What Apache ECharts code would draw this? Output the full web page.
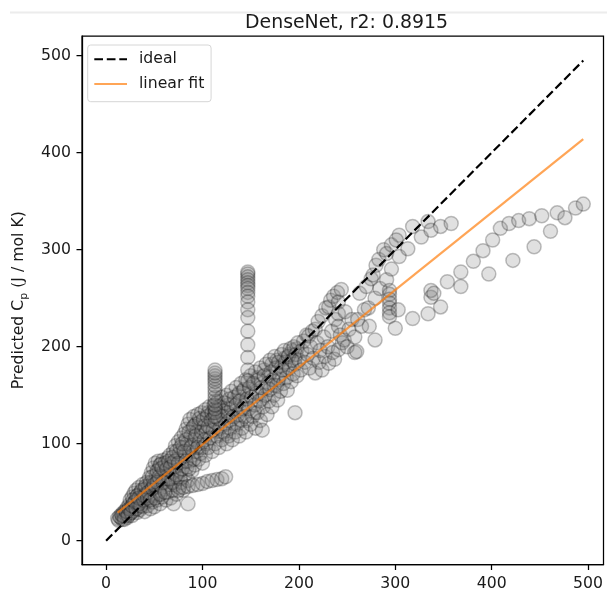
<!DOCTYPE html>
<html>
<head>
<meta charset="utf-8">
<script src="https://cdn.jsdelivr.net/npm/echarts@6/dist/echarts.min.js"></script>
<style>
html,body{margin:0;padding:0;background:#fff;}
#chart{width:607px;height:592px;}
</style>
</head>
<body>
<div id="chart"></div>
<script>
const titleText = 'DenseNet, r2: 0.8915';
const xTicks = [0, 100, 200, 300, 400, 500];
const yTicks = [0, 100, 200, 300, 400, 500];
const idealLine = [[0, 0], [495, 495]];
const fitLine = [[12, 29], [495, 414]];

const bandLow = [
[12,23],[13,21],[15,24],[16,27],[17,22],[18,29],[19,25],[20,31],[21,27],[22,34],[22,24],[23,30],[24,37],[25,28],[25,42],[26,33],[27,45],[27,26],[28,38],[29,49],[29,31],[30,35],[31,52],[31,42],[32,29],[33,47],[33,37],[34,55],[35,40],[35,32],[36,50],[37,44],[38,58],[38,35],[39,47],[40,53],[40,30],[41,40],[42,60],[42,49],[43,36],[44,56],[45,44],[45,65],[46,33],[47,52],[47,70],[48,40],[49,60],[49,75],[50,47],[50,35],[51,80],[52,55],[52,68],[53,42],[54,82],[54,62],[55,50],[55,74],[56,38],[57,79],[57,57],[58,66],[58,45],[59,83],[60,72],[60,53],[61,60],[62,78],[62,42],[63,67],[64,85],[64,50],[65,73],[66,58],[66,88],[67,44],[68,80],[68,64],[69,52],[70,92],[70,70],[71,58],[72,98],[72,76],[73,48],[74,84],[74,65],[75,102],[76,55],[76,90],[77,72],[78,106],[78,60],[79,80],[80,96],[80,52],[81,110],[82,68],[82,88],[83,115],[84,76],[84,100],[85,120],[85,62],[86,92],[87,125],[87,82],[88,108],[89,72],[89,98],[90,116],[90,88],[91,128],[92,78],[92,104],[93,120],[94,92],[94,112],[95,130],[96,84],[96,100],[97,122],[98,108],[98,90],[99,132],[100,116],[100,96],[100,80]
];
const bandExtra = [
[14,25],[17,26],[19,22],[21,30],[23,26],[24,33],[26,29],[27,36],[28,42],[30,40],[31,33],[32,46],[34,38],[34,44],[36,36],[37,52],[39,42],[40,46],[41,56],[43,44],[44,50],[46,60],[46,42],[48,54],[48,66],[50,58],[51,44],[53,72],[53,60],[55,66],[56,78],[56,48],[58,75],[59,60],[61,80],[61,50],[63,74],[65,82],[65,64],[67,76],[69,86],[69,60],[71,82],[73,92],[73,68],[75,80],[77,96],[77,64],[79,100],[79,74],[81,92],[83,104],[83,82],[86,112],[86,74],[88,96],[91,118],[91,84],[93,108],[95,96],[97,126],[99,112],[102,118],[104,100],[106,132],[108,116],[111,126],[114,112],[117,138],[119,124],[122,134],[124,110],[127,140],[129,128],[132,142],[134,122],[137,150],[139,134],[142,154],[144,140],[146,124],[149,150],[152,162],[154,132],[157,168],[159,152],[162,146],[164,176],[167,158],[169,170],[172,182],[174,160],[177,186],[179,166],[182,180],[185,188],[187,176],[190,192],[193,196],[196,188],[198,198]
];
const bandMid = [
[101,125],[102,104],[103,135],[103,88],[104,112],[105,128],[106,96],[106,118],[107,138],[108,106],[109,124],[110,92],[110,132],[111,114],[112,140],[113,100],[113,122],[114,134],[115,108],[116,144],[116,126],[117,96],[118,116],[119,138],[120,104],[120,148],[121,128],[122,112],[123,142],[124,120],[125,100],[125,150],[126,132],[127,108],[128,146],[128,124],[129,116],[130,154],[130,136],[131,104],[132,128],[133,148],[134,112],[135,158],[135,140],[136,120],[137,130],[138,152],[138,108],[139,144],[140,162],[140,124],[141,116],[142,136],[143,156],[144,128],[145,166],[145,112],[146,146],[148,136],[149,158],[150,120],[150,170],[151,148],[152,128],[153,162],[154,140],[155,116],[155,174],[156,152],[157,132],[158,166],[159,144],[160,124],[160,178],[161,158],[162,114],[163,138],[164,170],[165,150],[166,182],[167,130],[168,162],[169,144],[170,186],[170,156],[171,174],[172,138],[173,166],[174,150],[175,190],[176,178],[177,160],[178,145],[179,184],[180,170],[181,154],[182,192],[183,176],[184,162],[185,196],[186,184],[187,168],[188,155],[189,190],[190,178],[191,198],[192,164],[193,186],[194,172],[195,200],[196,182],[197,192],[198,170],[199,204],[200,186]
];
const bandHigh = [
[202,176],[203,196],[205,206],[206,184],[208,212],[209,192],[210,211],[211,178],[212,200],[214,216],[215,188],[217,218],[217,173],[219,204],[220,226],[221,184],[222,196],[224,176],[224,232],[226,210],[227,190],[228,240],[230,200],[231,241],[231,183],[233,248],[234,216],[235,194],[236,252],[237,187],[238,228],[240,256],[241,197],[241,246],[241,234],[241,221],[243,212],[244,259],[245,204],[247,207],[248,236],[250,200],[252,218],[255,228],[258,194],[258,210],[260,195],[261,228],[263,255],[265,221],[268,238],[270,262],[272,240],[273,221],[275,270],[277,274],[279,250],[279,207],[280,284],[283,290],[284,260],[288,300],[291,269],[291,296],[294,258],[294,254],[294,249],[294,245],[294,240],[294,235],[294,231],[296,305],[296,280],[300,219],[303,238],[304,293],[304,315],[301,310]
];
const upperTail = [
[313,301],[318,324],[327,313],[334,329],[337,320],[347,324],[358,327]
];
const lowerTail = [
[318,229],[334,234],[337,251],[337,258],[340,255],[347,241],[354,267],[368,262],[368,277],[381,288],[391,299],[397,275],[401,310],[409,322],[418,327],[422,289],[428,330],[439,332],[444,303],[452,335],[461,319],[468,338],[476,333],[487,343],[495,347]
];
const stackAt113 = [
[113,128],[113,132],[113,136],[113,140],[113,144],[113,148],[113,152],[113,156],[113,160],[113,164],[113,167],[113,170],[113,173],[113,176]
];
const stackAt147 = [
[147,277],[147,275],[147,272],[147,269],[147,266],[147,263],[147,260],[147,256],[147,252],[147,246],[147,238],[147,230],[147,216],[147,202],[147,189],[147,176],[147,165]
];
const lowRow = [
[75,52],[80,55],[85,56],[90,57],[95,58],[100,59],[105,61],[110,62],[115,63],[120,64],[124,66]
];
const strays = [[85,38],[70,38],[196,132]];

const allPoints = [].concat(bandLow, bandExtra, bandMid, bandHigh, upperTail, lowerTail, stackAt113, stackAt147, lowRow, strays);

const FONT = 'DejaVu Sans';
const chart = echarts.init(document.getElementById('chart'), null, {renderer: 'canvas'});
chart.setOption({
  animation: false,
  backgroundColor: '#ffffff',
  title: {
    text: titleText,
    left: 341.5,
    textAlign: 'center',
    top: 9,
    textStyle: {fontFamily: FONT, fontSize: 18.9, fontWeight: 'normal', color: '#1a1a1a'}
  },
  graphic: [{
    type: 'line', shape: {x1: 10, y1: 12.5, x2: 607, y2: 12.5},
    style: {stroke: '#ececec', lineWidth: 2}, z: -1
  }],
  legend: {
    data: ['ideal', 'linear fit'],
    orient: 'vertical',
    left: 87.7,
    top: 45,
    padding: [6.3, 6.7, 9.7, 5.6],
    itemWidth: 32.7,
    itemHeight: 14,
    itemGap: 8.7,
    itemStyle: {color: 'rgba(0,0,0,0)', borderColor: 'rgba(0,0,0,0)', borderWidth: 0, opacity: 0},
    backgroundColor: 'rgba(255,255,255,0.8)',
    borderColor: '#d6d6d6',
    borderWidth: 1,
    borderRadius: 3,
    textStyle: {fontFamily: FONT, fontSize: 15.7, color: '#1a1a1a', padding: [0, 0, 0, 7]}
  },
  grid: {
    left: 79, top: 36, right: 3.5, bottom: 27.5,
    show: true, borderColor: '#000', borderWidth: 1.25, backgroundColor: 'transparent'
  },
  xAxis: {
    type: 'value', min: -25, max: 516,
    axisLine: {show: true, onZero: false, lineStyle: {color: '#000', width: 1.25}},
    axisTick: {show: true, length: 5.5, lineStyle: {color: '#000', width: 1.25}, customValues: xTicks},
    axisLabel: {margin: 11, fontFamily: FONT, fontSize: 15.7, color: '#1a1a1a', customValues: xTicks},
    splitLine: {show: false}
  },
  yAxis: {
    type: 'value', min: -24.5, max: 520.3,
    name: 'Predicted C{sub|p} (J / mol K)',
    nameLocation: 'middle',
    nameRotate: 90,
    nameGap: 52,
    nameTextStyle: {
      fontFamily: FONT, fontSize: 15.7, color: '#1a1a1a', lineHeight: 22,
      rich: {sub: {fontFamily: FONT, fontSize: 11, color: '#1a1a1a', verticalAlign: 'bottom', lineHeight: 22}}
    },
    axisLine: {show: true, onZero: false, lineStyle: {color: '#000', width: 1.25}},
    axisTick: {show: true, length: 5.5, lineStyle: {color: '#000', width: 1.25}, customValues: yTicks},
    axisLabel: {margin: 11, fontFamily: FONT, fontSize: 15.7, color: '#1a1a1a', customValues: yTicks},
    splitLine: {show: false}
  },
  series: [
    {
      type: 'scatter', name: 'points', data: allPoints, symbolSize: 14, z: 2,
      itemStyle: {color: 'rgba(128,128,128,0.3)', borderColor: 'rgba(0,0,0,0.3)', borderWidth: 1.5},
      emphasis: {disabled: true}
    },
    {
      type: 'line', name: 'ideal', data: idealLine, symbol: 'none', z: 4,
      lineStyle: {color: '#000', width: 2.2, type: [8.7, 3.8]},
      itemStyle: {color: '#000'}
    },
    {
      type: 'line', name: 'linear fit', data: fitLine, symbol: 'none', z: 5,
      lineStyle: {color: 'rgba(255,127,14,0.7)', width: 2.2},
      itemStyle: {color: 'rgba(255,127,14,0.7)'}
    }
  ]
});
</script>
</body>
</html>
